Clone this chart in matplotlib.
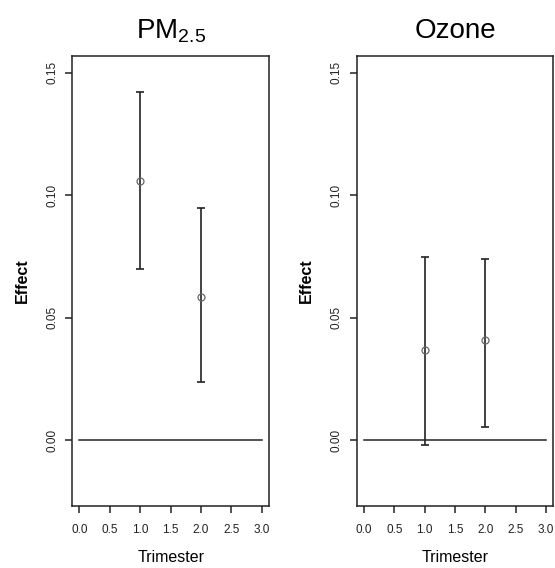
import matplotlib.pyplot as plt
import numpy as np

plt.rcParams['font.family'] = ['Liberation Sans', 'DejaVu Sans']
plt.rcParams['mathtext.fontset'] = 'custom'
plt.rcParams['mathtext.rm'] = 'Liberation Sans'
plt.rcParams['mathtext.it'] = 'Liberation Sans:italic'

trimester = [1, 2]
pm_est = [0.106, 0.0585]
pm_lo = [0.070, 0.024]
pm_hi = [0.142, 0.095]
oz_est = [0.037, 0.041]
oz_lo = [-0.002, 0.0055]
oz_hi = [0.075, 0.074]

titles = ["PM$_{\\mathrm{2.5}}$", "Ozone"]
xticks = [0.0, 0.5, 1.0, 1.5, 2.0, 2.5, 3.0]
yticks = [0.00, 0.05, 0.10, 0.15]

fig = plt.figure(figsize=(5.55, 5.68), dpi=100)
positions = [[0.130, 0.109, 0.355, 0.792], [0.643, 0.109, 0.354, 0.792]]
panels = [(pm_est, pm_lo, pm_hi), (oz_est, oz_lo, oz_hi)]

for pos, title, (est, lo, hi) in zip(positions, titles, panels):
    ax = fig.add_axes(pos)
    est = np.array(est)
    yerr = [est - np.array(lo), np.array(hi) - est]
    ax.errorbar(trimester, est, yerr=yerr, fmt='none', ecolor='#222222',
                elinewidth=1.2, capsize=3, capthick=1.2)
    ax.plot(trimester, est, 'o', mfc='none', mec='#666666', ms=5, mew=0.9)
    ax.plot([0, 3], [0, 0], color='#222222', lw=1.1)
    ax.set_xlim(-0.12, 3.12)
    ax.set_ylim(-0.0268, 0.1568)
    ax.set_xticks(xticks)
    ax.set_xticklabels([f"{t:.1f}" for t in xticks], fontsize=8.5)
    ax.set_yticks(yticks)
    ax.set_yticklabels([f"{t:.2f}" for t in yticks], fontsize=8.5, rotation=90, va='center')
    ax.tick_params(direction='out', length=5, width=1.1, colors='#222222')
    ax.tick_params(axis='x', pad=8)
    ax.tick_params(axis='y', pad=5)
    for s in ax.spines.values():
        s.set_linewidth(1.1)
        s.set_color('#222222')
    ax.set_title(title, fontsize=20, pad=13)
    ax.set_xlabel("Trimester", fontsize=11.5, labelpad=10)
    ax.set_ylabel("Effect", fontsize=11.5, fontweight='bold', labelpad=12)

fig.savefig("out.png", dpi=100)
